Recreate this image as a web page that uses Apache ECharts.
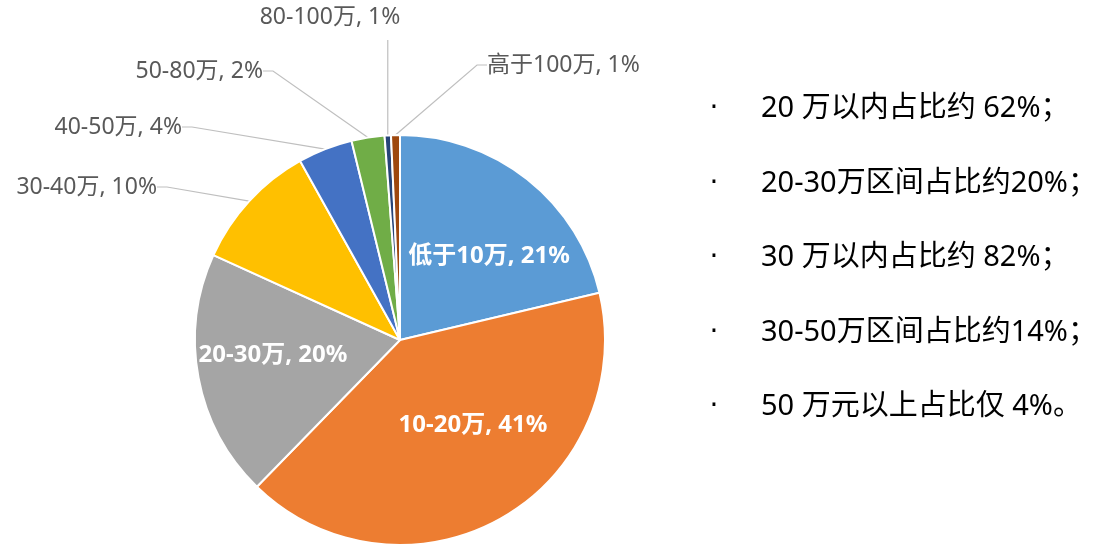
<!DOCTYPE html>
<html>
<head>
<meta charset="utf-8">
<script src="https://cdn.jsdelivr.net/npm/echarts@6/dist/echarts.min.js"></script>
<style>
  html, body { margin: 0; padding: 0; background: #fff; }
  #chart-ctn { width: 1112px; height: 547px; }
</style>
</head>
<body>
<div id="chart-ctn"></div>
<script>
// 收入区间占比
var categories = ['低于10万', '10-20万', '20-30万', '30-40万', '40-50万', '50-80万', '80-100万', '高于100万'];
var values = [21.3, 41.0, 19.5, 10.1, 4.3, 2.6, 0.5, 0.7];
var shownPct = ['21%', '41%', '20%', '10%', '4%', '2%', '1%', '1%'];
var colors = ['#5B9BD5', '#ED7D31', '#A5A5A5', '#FFC000', '#4472C4', '#70AD47', '#264478', '#9E480E'];
var notes = [
  '20 万以内占比约 62%；',
  '20-30万区间占比约20%；',
  '30 万以内占比约 82%；',
  '30-50万区间占比约14%；',
  '50 万元以上占比仅 4%。'
];

var FONT = "'Noto Sans', 'Noto Sans CJK SC', sans-serif";

// label spots (x, y, align)
var labelSpots = [
  [489, 256, 'center'],
  [473, 425, 'center'],
  [273, 355, 'center'],
  [157, 187, 'right'],
  [182, 127, 'right'],
  [263, 71, 'right'],
  [330, 17, 'center'],
  [487, 65, 'left']
];

var chart = echarts.init(document.getElementById('chart-ctn'));

var pieData = categories.map(function (name, i) {
  var inside = i < 3;
  return {
    name: name,
    value: values[i],
    itemStyle: { color: colors[i] },
    label: inside ? {
      position: 'inside',
      color: '#fff',
      fontWeight: 'bold',
      fontSize: 24
    } : {
      position: 'outside',
      color: '#595959',
      fontSize: 23
    },
    labelLine: { show: !inside }
  };
});

var graphics = [];
notes.forEach(function (t, i) {
  var y = 109 + i * 74.5;
  graphics.push({
    type: 'text', x: 714, y: y,
    style: { text: '·', fontSize: 28, fill: '#000', fontFamily: 'DejaVu Sans', align: 'center', verticalAlign: 'middle' }
  });
  graphics.push({
    type: 'text', x: 761, y: y,
    style: { text: t, fontSize: 29, fill: '#000', fontFamily: FONT, verticalAlign: 'middle' }
  });
});

var option = {
  backgroundColor: '#fff',
  animation: false,
  textStyle: { fontFamily: FONT },
  graphic: graphics,
  series: [{
    type: 'pie',
    center: [400, 340],
    radius: 205,
    startAngle: 90,
    clockwise: true,
    avoidLabelOverlap: false,
    itemStyle: { borderColor: '#fff', borderWidth: 2 },
    label: {
      fontFamily: FONT,
      formatter: function (p) { return p.name + ', ' + shownPct[p.dataIndex]; }
    },
    labelLine: {
      length: 20, length2: 10,
      lineStyle: { color: '#BFBFBF', width: 1.2 }
    },
    labelLayout: function (p) {
      var s = labelSpots[p.dataIndex];
      var out = { x: s[0], y: s[1], align: s[2], verticalAlign: 'middle' };
      if (p.dataIndex === 6 && p.labelLinePoints) {
        // straight up from the thin slice, like the original
        var p0 = p.labelLinePoints[0];
        out.labelLinePoints = [p0, [p0[0], 40], [p0[0], 40]];
      }
      return out;
    },
    data: pieData
  }]
};

chart.setOption(option);
</script>
</body>
</html>
